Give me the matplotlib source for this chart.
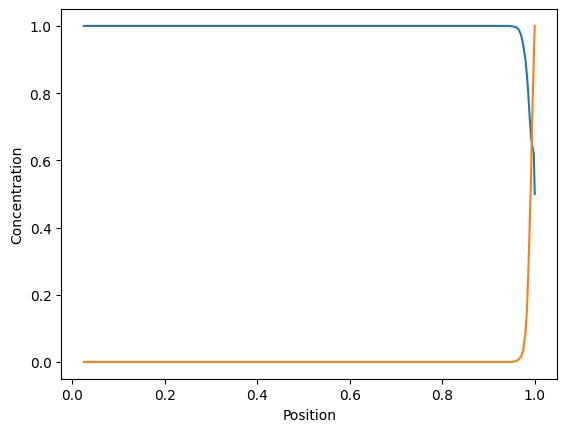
import matplotlib
matplotlib.use("Agg")
import matplotlib.pyplot as plt

position = [0.025, 0.1, 0.2, 0.3, 0.4, 0.5, 0.6, 0.7, 0.8, 0.9, 0.94, 0.95, 0.955,
            0.96, 0.965, 0.97, 0.975, 0.98, 0.983, 0.986, 0.989, 0.992, 0.995, 0.998, 1.0]
conc_a = [1.0, 1.0, 1.0, 1.0, 1.0, 1.0, 1.0, 1.0, 1.0, 1.0, 1.0, 0.999, 0.998,
          0.996, 0.99, 0.975, 0.945, 0.90, 0.855, 0.80, 0.73, 0.67, 0.64, 0.62, 0.5]
conc_b = [0.0, 0.0, 0.0, 0.0, 0.0, 0.0, 0.0, 0.0, 0.0, 0.0, 0.0, 0.0, 0.001,
          0.003, 0.007, 0.015, 0.033, 0.09, 0.15, 0.26, 0.40, 0.55, 0.75, 0.90, 1.0]

fig, ax = plt.subplots(figsize=(6.4, 4.8), dpi=100)
ax.plot(position, conc_a)
ax.plot(position, conc_b)
ax.set_xlabel("Position")
ax.set_ylabel("Concentration")
fig.savefig("out.png", bbox_inches="tight")
